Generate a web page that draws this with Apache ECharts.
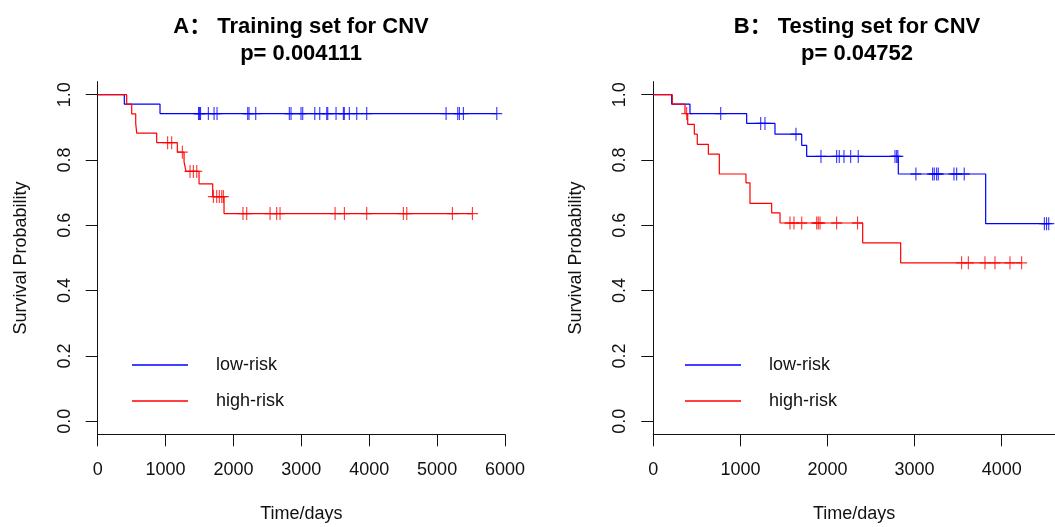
<!DOCTYPE html>
<html>
<head>
<meta charset="utf-8">
<script src="https://cdn.jsdelivr.net/npm/echarts@6/dist/echarts.min.js"></script>
<style>
  html, body { margin: 0; padding: 0; background: #fff; }
  #chart { width: 1055px; height: 527px; }
</style>
</head>
<body>
<div id="chart"></div>
<script>
// Kaplan-Meier step points (time in days, survival)
var trainLowT = [0, 392, 918, 5879];
var trainLowS = [1, 0.971, 0.942, 0.942];
var trainLowCens = [1485, 1500, 1515, 1630, 1714, 1758, 2210, 2229, 2328, 2823, 2848, 2995, 3020,
  3198, 3271, 3374, 3389, 3511, 3619, 3633, 3707, 3816, 3963, 5132, 5304, 5328, 5387, 5879];

var trainHighT = [0, 427, 501, 560, 575, 869, 1173, 1272, 1301, 1493, 1694, 1861, 5520];
var trainHighS = [1, 0.971, 0.941, 0.912, 0.882, 0.853, 0.824, 0.794, 0.765, 0.727, 0.688, 0.636, 0.636];
var trainHighCens = [1030, 1090, 1247, 1360, 1409, 1459, 1704, 1753, 1792, 1827, 1851, 2140, 2195,
  2539, 2637, 2686, 3497, 3634, 3963, 4503, 4553, 5225, 5520];

var testLowT = [0, 211, 421, 1072, 1397, 1704, 1761, 2813, 3816, 4540];
var testLowS = [1, 0.971, 0.942, 0.912, 0.879, 0.845, 0.811, 0.757, 0.605, 0.605];
var testLowCens = [774, 1233, 1282, 1638, 1925, 2105, 2135, 2189, 2266, 2353, 2775, 2794, 2808,
  3015, 3207, 3226, 3253, 3272, 3452, 3483, 3570, 4490, 4515, 4540];

var testHighT = [0, 218, 364, 395, 471, 505, 632, 758, 1064, 1110, 1359, 1455, 2404, 2840, 4229];
var testHighS = [1, 0.971, 0.942, 0.909, 0.879, 0.848, 0.818, 0.757, 0.730, 0.667, 0.638, 0.607, 0.546, 0.485, 0.485];
var testHighCens = [383, 1569, 1615, 1704, 1876, 1894, 1914, 2105, 2345, 3540, 3617, 3808, 3923, 4095, 4229];

var yTicks = [0, 0.2, 0.4, 0.6, 0.8, 1.0];
var xTicksTrain = [0, 1000, 2000, 3000, 4000, 5000, 6000];
var xTicksTest = [0, 1000, 2000, 3000, 4000];
var titles = ['A\uff1a Training set for CNV\np= 0.004111', 'B\uff1a Testing set for CNV\np= 0.04752'];
var groupNames = ['low-risk', 'high-risk'];

var FONT = '"Liberation Sans", Arial, "Noto Sans CJK SC", sans-serif';
var BLUE = '#0000ff';
var RED = '#ff0000';
var PLUS = 'path://M-0.1,-1L0.1,-1L0.1,-0.1L1,-0.1L1,0.1L0.1,0.1L0.1,1L-0.1,1L-0.1,0.1L-1,0.1L-1,-0.1L-0.1,-0.1Z';

function zip(t, s) {
  return t.map(function (v, i) { return [v, s[i]]; });
}

function survAt(t, s, time) {
  var v = s[0];
  for (var i = 0; i < t.length; i++) {
    if (t[i] <= time) v = s[i];
  }
  return v;
}

function kmSeries(name, idx, t, s, cens, color) {
  return [{
    name: name,
    type: 'line',
    step: 'end',
    xAxisIndex: idx,
    yAxisIndex: idx,
    showSymbol: false,
    lineStyle: { color: color, width: 1.2 },
    itemStyle: { color: color },
    data: zip(t, s)
  }, {
    name: name + '-cens',
    type: 'scatter',
    xAxisIndex: idx,
    yAxisIndex: idx,
    symbol: PLUS,
    symbolSize: [11, 13],
    itemStyle: { color: color },
    data: cens.map(function (c) { return [c, survAt(t, s, c)]; })
  }];
}

function xAxis(idx, max, ticks) {
  return {
    type: 'value',
    gridIndex: idx,
    min: 0,
    max: max,
    name: 'Time/days',
    nameLocation: 'middle',
    nameGap: 71,
    nameTextStyle: { fontFamily: FONT, fontSize: 18, color: '#111' },
    axisLine: { onZero: false, lineStyle: { color: '#111', width: 1 } },
    axisTick: { length: 12, customValues: ticks, lineStyle: { color: '#111' } },
    axisLabel: {
      customValues: ticks,
      margin: 27,
      fontFamily: FONT,
      fontSize: 18,
      color: '#111',
      formatter: function (v) { return String(v); }
    },
    splitLine: { show: false }
  };
}

function yAxis(idx) {
  return {
    type: 'value',
    gridIndex: idx,
    min: -0.04,
    max: 1.04,
    name: 'Survival Probability',
    nameLocation: 'middle',
    nameGap: 68,
    nameTextStyle: { fontFamily: FONT, fontSize: 18, color: '#111' },
    axisLine: { show: true, onZero: false, lineStyle: { color: '#111', width: 1 } },
    axisTick: { show: true, length: 12, customValues: yTicks, lineStyle: { color: '#111' } },
    axisLabel: {
      customValues: yTicks,
      rotate: 90,
      margin: 24,
      fontFamily: FONT,
      fontSize: 18,
      color: '#111',
      formatter: function (v) { return v.toFixed(1); }
    },
    splitLine: { show: false }
  };
}

function legend(left) {
  return {
    orient: 'vertical',
    left: left,
    top: 349,
    data: groupNames,
    icon: 'rect',
    itemWidth: 56,
    itemHeight: 1.5,
    itemGap: 14,
    selectedMode: false,
    textStyle: { fontFamily: FONT, fontSize: 18, color: '#111', lineHeight: 22, padding: [0, 0, 0, 23] }
  };
}

var chart = echarts.init(document.getElementById('chart'));

var series = []
  .concat(kmSeries('low-risk', 0, trainLowT, trainLowS, trainLowCens, BLUE))
  .concat(kmSeries('high-risk', 0, trainHighT, trainHighS, trainHighCens, RED))
  .concat(kmSeries('low-risk', 1, testLowT, testLowS, testLowCens, BLUE))
  .concat(kmSeries('high-risk', 1, testHighT, testHighS, testHighCens, RED));

chart.setOption({
  animation: false,
  backgroundColor: '#fff',
  title: [{
    text: titles[0],
    left: 301,
    top: 13,
    textAlign: 'center',
    padding: 0,
    textStyle: { fontFamily: FONT, fontSize: 22, fontWeight: 'bold', color: '#000', lineHeight: 27 }
  }, {
    text: titles[1],
    left: 857,
    top: 13,
    textAlign: 'center',
    padding: 0,
    textStyle: { fontFamily: FONT, fontSize: 22, fontWeight: 'bold', color: '#000', lineHeight: 27 }
  }],
  legend: [legend(127), legend(680)],
  grid: [
    { left: 97.7, top: 81.6, width: 407.3, height: 352.7, outerBoundsMode: 'none' },
    { left: 653.3, top: 81.6, width: 401.7, height: 352.7, outerBoundsMode: 'none' }
  ],
  xAxis: [xAxis(0, 6000, xTicksTrain), xAxis(1, 4612, xTicksTest)],
  yAxis: [yAxis(0), yAxis(1)],
  series: series
});
</script>
</body>
</html>
